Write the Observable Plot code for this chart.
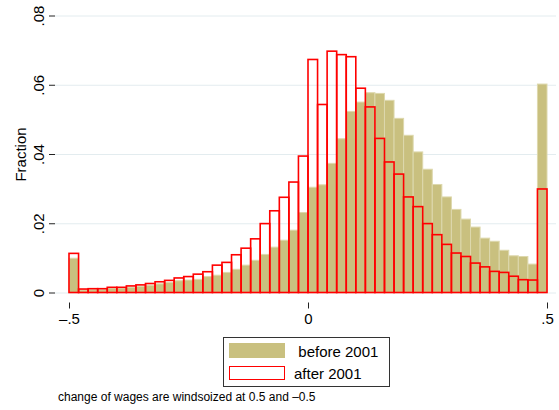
<!DOCTYPE html>
<html><head><meta charset="utf-8">
<script src="https://cdn.jsdelivr.net/npm/d3@7"></script>
<script src="https://cdn.jsdelivr.net/npm/@observablehq/plot@0.6"></script>
<style>
body{margin:0;background:#fff;font-family:"Liberation Sans",Arial,Helvetica,sans-serif;}
#wrap{position:relative;width:559px;height:410px;overflow:hidden;background:#fff;}
#wrap svg{position:absolute;left:0;top:0;}
.abs{position:absolute;white-space:nowrap;}
</style></head><body><div id="wrap"></div>
<script>
// bin edges (lower/upper) of the histogram of wage changes
const binEdges = [-0.50,-0.48,-0.46,-0.44,-0.42,-0.40,-0.38,-0.36,-0.34,-0.32,
  -0.30,-0.28,-0.26,-0.24,-0.22,-0.20,-0.18,-0.16,-0.14,-0.12,
  -0.10,-0.08,-0.06,-0.04,-0.02,0.00,0.02,0.04,0.06,0.08,
  0.10,0.12,0.14,0.16,0.18,0.20,0.22,0.24,0.26,0.28,
  0.30,0.32,0.34,0.36,0.38,0.40,0.42,0.44,0.46,0.48,0.50];
// fraction per bin, before 2001
const before2001 = [0.0099,0.0007,0.0008,0.0008,0.0012,0.0012,0.0015,0.0018,0.0021,0.0025,
  0.0029,0.0034,0.0036,0.0038,0.0046,0.0050,0.0058,0.0067,0.0079,0.0093,
  0.0110,0.0131,0.0151,0.0180,0.0231,0.0304,0.0311,0.0373,0.0444,0.0523,
  0.0550,0.0577,0.0575,0.0555,0.0503,0.0454,0.0406,0.0356,0.0312,0.0276,
  0.0240,0.0212,0.0189,0.0157,0.0148,0.0122,0.0106,0.0104,0.0082,0.0602];
// fraction per bin, after 2001
const after2001 = [0.0113,0.0010,0.0011,0.0011,0.0015,0.0015,0.0019,0.0022,0.0026,0.0031,
  0.0035,0.0042,0.0046,0.0053,0.0060,0.0079,0.0087,0.0109,0.0128,0.0155,
  0.0199,0.0236,0.0275,0.0319,0.0394,0.0673,0.0543,0.0697,0.0687,0.0681,
  0.0590,0.0536,0.0445,0.0377,0.0342,0.0276,0.0248,0.0199,0.0167,0.0139,
  0.0114,0.0104,0.0085,0.0074,0.0061,0.0058,0.0047,0.0037,0.0036,0.0299];
const seriesNames = ["before 2001", "after 2001"];
const yTicks = [0, 0.02, 0.04, 0.06, 0.08];
const yTickLabels = ["0", ".02", ".04", ".06", ".08"];
const xTicks = [-0.5, 0, 0.5];
const xTickLabels = ["–.5", "0", ".5"];
const yLabel = "Fraction";
const captionText = "change of wages are windsoized at 0.5 and –0.5";

const olive = "#c9c07f", oliveEdge = "#ddd8ad", red = "#ff0000";
const FONT = '"Liberation Sans", Arial, Helvetica, sans-serif';

const bars = before2001.map((v, i) => ({x1: binEdges[i], x2: binEdges[i + 1], before: v, after: after2001[i]}));

const chart = Plot.plot({
  width: 559, height: 330,
  marginTop: 15.5, marginBottom: 27.5, marginLeft: 55, marginRight: 3,
  style: {fontFamily: FONT, fontSize: "15px", color: "#000", background: "transparent", overflow: "visible"},
  x: {domain: [-0.5, 0.5], insetLeft: 14, insetRight: 9, label: null},
  y: {domain: [0, 0.08], insetBottom: 10, label: null},
  marks: [
    Plot.gridY(yTicks, {stroke: "#e3ecef", strokeOpacity: 1, strokeWidth: 1}),
    Plot.rectY(bars, {x1: "x1", x2: "x2", y: "before", fill: olive, stroke: oliveEdge, strokeWidth: 1}),
    Plot.rectY(bars, {x1: "x1", x2: "x2", y: "after", fill: "none", stroke: red, strokeWidth: 1.6}),
    Plot.axisY(yTicks, {tickSize: 6, tickPadding: 6, tickRotate: -90, line: true, label: null,
      tickFormat: d => yTickLabels[yTicks.indexOf(d)], fontSize: 15, stroke: "#222"}),
    Plot.axisX(xTicks, {tickSize: 6, tickPadding: 4, line: true, label: null,
      tickFormat: d => xTickLabels[xTicks.indexOf(d)], fontSize: 15, stroke: "#222"}),
    Plot.text([yLabel], {frameAnchor: "left", dx: -30, dy: -5, rotate: -90, textAnchor: "middle", lineAnchor: "bottom", fontSize: 15, fill: "#000"})
  ]
});
const wrap = document.getElementById("wrap");
wrap.appendChild(chart);

// legend (below the plot)
const legend = document.createElement("div");
legend.className = "abs";
legend.style.cssText = "left:222.5px;top:336.5px;width:167px;height:50px;border:1px solid #333;box-sizing:border-box;background:#fff;";
wrap.appendChild(legend);
const legendItems = [
  {name: seriesNames[0], sw: {left: 228.5, top: 343.3, w: 56.5, h: 15, bg: olive, border: "none"}, text: {left: 298.3, baseline: 356.7}},
  {name: seriesNames[1], sw: {left: 228.5, top: 365.5, w: 56.5, h: 14, bg: "#fff", border: "1.5px solid " + red}, text: {left: 294, baseline: 378.3}}
];
for (const it of legendItems) {
  const s = document.createElement("div");
  s.className = "abs";
  s.style.cssText = `left:${it.sw.left}px;top:${it.sw.top}px;width:${it.sw.w}px;height:${it.sw.h}px;background:${it.sw.bg};border:${it.sw.border};box-sizing:border-box;`;
  wrap.appendChild(s);
  const t = document.createElement("div");
  t.className = "abs";
  t.textContent = it.name;
  t.style.cssText = `left:${it.text.left}px;top:${it.text.baseline - 12.7}px;font-size:15px;line-height:15px;color:#000;font-family:${FONT};`;
  wrap.appendChild(t);
}
const cap = document.createElement("div");
cap.className = "abs";
cap.textContent = captionText;
cap.style.cssText = `left:58px;top:${401 - 10.2}px;font-size:12px;line-height:12px;color:#000;font-family:${FONT};`;
wrap.appendChild(cap);
</script>
</body></html>
